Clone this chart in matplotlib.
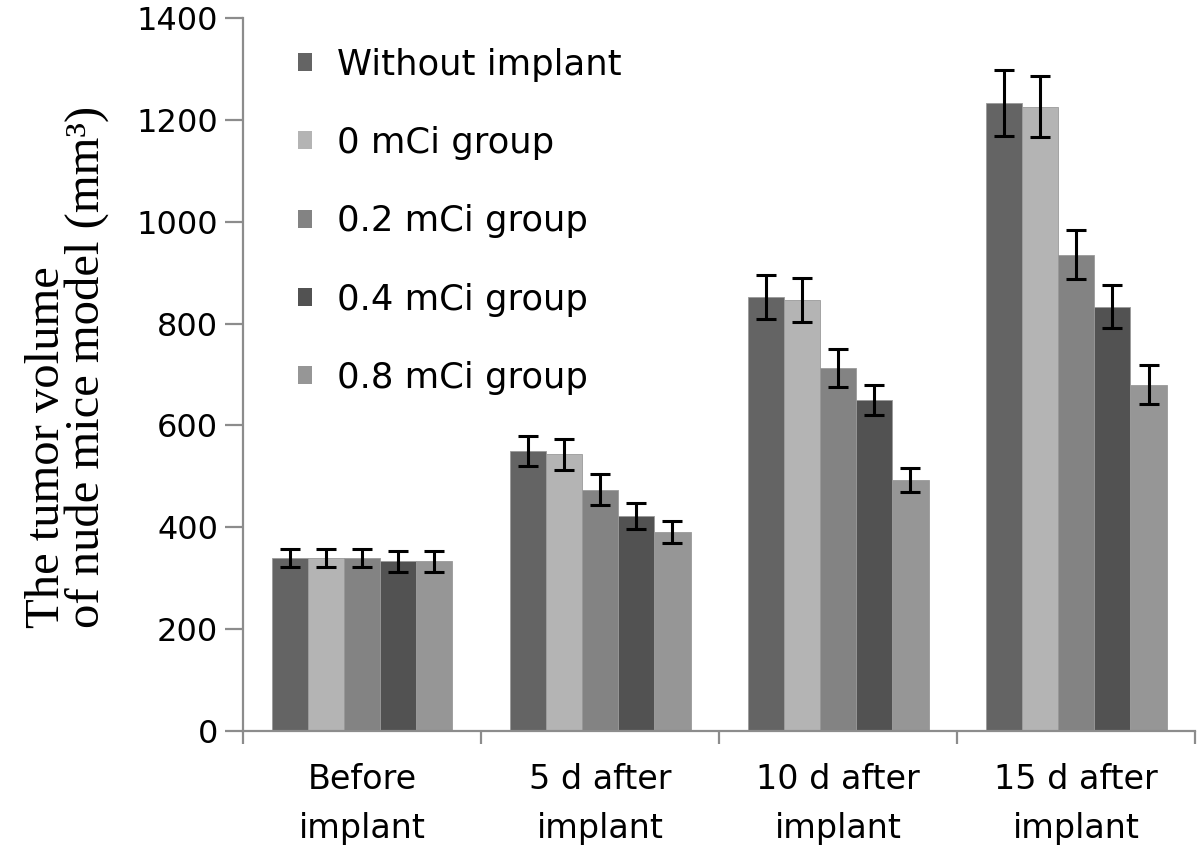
import numpy as np
from matplotlib import pyplot as plt
from matplotlib.patches import Patch

# ---- data ----
categories = ['Before\nimplant', '5 d after\nimplant', '10 d after\nimplant', '15 d after\nimplant']
groups = ['Without implant', '0 mCi group', '0.2 mCi group', '0.4 mCi group', '0.8 mCi group']

without_implant = [340, 550, 852, 1233]
mci_0 = [340, 543, 846, 1226]
mci_02 = [340, 474, 713, 935]
mci_04 = [333, 422, 650, 833]
mci_08 = [333, 391, 493, 680]

err_without = [18, 30, 43, 65]
err_0 = [18, 30, 43, 60]
err_02 = [18, 30, 37, 48]
err_04 = [20, 25, 29, 42]
err_08 = [20, 22, 23, 38]

colors = ['#646464', '#b4b4b4', '#838383', '#525252', '#969696']

values = [without_implant, mci_0, mci_02, mci_04, mci_08]
errors = [err_without, err_0, err_02, err_04, err_08]

fig = plt.figure(figsize=(12, 8.51), dpi=100)
ax = fig.add_axes([0.2025, 0.141, 0.7935, 0.838])

x = np.arange(len(categories))
width = 0.152
for i in range(len(groups)):
    pos = x + (i - 2) * width
    ax.bar(pos, values[i], width=width, color=colors[i], edgecolor='#9a9a9a', linewidth=0.6,
           yerr=errors[i], error_kw=dict(ecolor='black', elinewidth=2.2, capsize=7.5, capthick=2.2),
           label=groups[i])

ax.set_xlim(-0.5, 3.5)
ax.set_ylim(0, 1400)
ax.set_yticks(range(0, 1401, 200))

for s in ['top', 'right']:
    ax.spines[s].set_visible(False)
for s in ['left', 'bottom']:
    ax.spines[s].set_color('#8c8c8c')
    ax.spines[s].set_linewidth(1.6)

ax.tick_params(axis='y', direction='out', length=13, width=1.6, color='#8c8c8c', pad=5, labelsize=23)
ax.set_xticks(x)
ax.set_xticklabels(categories)
ax.tick_params(axis='x', which='major', length=0, pad=23, labelsize=24)
for t in ax.get_xticklabels():
    t.set_linespacing(1.6)
ax.set_xticks(np.arange(-0.5, 3.6, 1.0), minor=True)
ax.tick_params(axis='x', which='minor', direction='out', length=9, width=1.6, color='#8c8c8c')

ax.set_ylabel('The tumor volume\nof nude mice model (mm\u00b3)', family='Liberation Serif',
              fontsize=35, linespacing=0.86, va='center', ha='center', multialignment='left')
ax.yaxis.set_label_coords(-0.185, 0.51)

handles = [Patch(facecolor=c, edgecolor='none') for c in colors]
ax.legend(handles, groups, loc='upper left', bbox_to_anchor=(0.058, 0.958), frameon=False,
          fontsize=25.5, handlelength=0.4, handleheight=0.4, handletextpad=0.7,
          labelspacing=1.25, borderpad=0, borderaxespad=0)

fig.savefig('out.png', dpi=100)
